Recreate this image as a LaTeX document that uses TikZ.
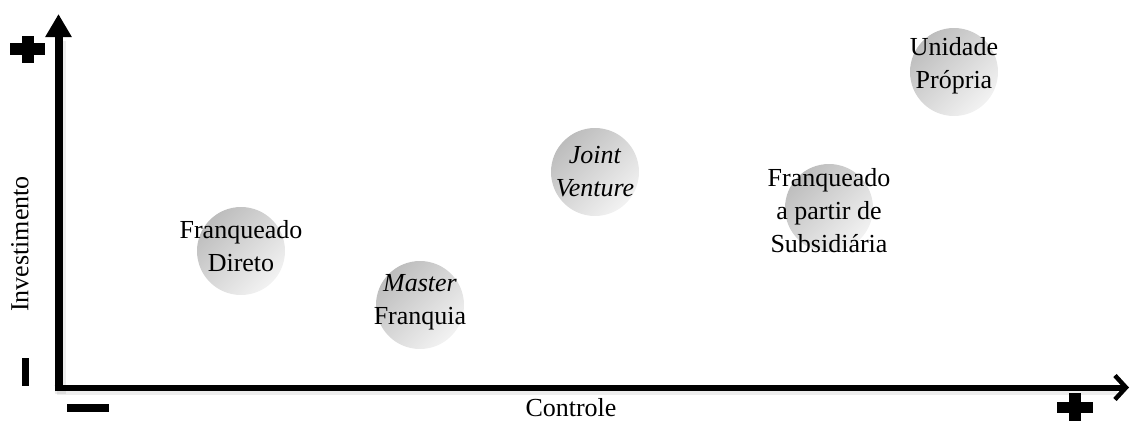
\documentclass[tikz,border=0pt]{standalone}
\usepackage{fontspec}
\setmainfont{Liberation Serif}
\usetikzlibrary{arrows.meta}
\begin{document}
\begin{tikzpicture}[x=1pt,y=-1pt,
  bubble/.style={circle, minimum size=88pt, inner sep=0pt, shading=axis,
    top color=black!26, bottom color=black!5, shading angle=45},
  lbl/.style={align=center, inner sep=0pt, font=\fontsize{26}{33}\selectfont},
  axisline/.style={draw=black},
  axisshadow/.style={draw=black, opacity=0.07},
  signbar/.style={fill=black}]
\useasboundingbox (0,0) rectangle (1130,421);

% axis end points
\coordinate (O) at (58.5,387.5);
\coordinate (ybase) at (58.5,391);
\coordinate (ytip) at (58.5,14);
\coordinate (xbase) at (54.5,387.5);
\coordinate (xtip) at (1129,387.5);

% soft shadows of the axes
\draw[axisshadow, line width=11] ([shift={(2,3)}]ybase) -- ([shift={(2,3)}]58.5,38);
\draw[axisshadow, line width=9] ([shift={(2,3)}]xbase) -- ([shift={(2,3)}]1115,387.5);

% axes
\draw[axisline, line width=8, -{Triangle[length=23pt,width=25pt]}] (ybase) -- (ytip);
\draw[axisline, line width=6, -{Straight Barb[length=11pt,width=24pt,line width=4.5pt]}] (xbase) -- (xtip);

% axis end signs
\fill[signbar] (10,43) rectangle (45,55);
\fill[signbar] (21.5,36) rectangle (33.5,63);
\fill[signbar] (22,358) rectangle (29,386);
\fill[signbar] (67,404) rectangle (109,412);
\fill[signbar] (1057,402) rectangle (1093,413);
\fill[signbar] (1069,393) rectangle (1081,421);

% axis titles
\node[lbl, rotate=90] (ylab) at (20,244) {Investimento};
\node[lbl] (xlab) at (571,408) {Controle};

% bubbles
\node[bubble] (c1) at (241,251) {};
\node[bubble] (c2) at (420,305) {};
\node[bubble] (c3) at (595,172) {};
\node[bubble] (c4) at (829,208) {};
\node[bubble] (c5) at (954,72) {};

% bubble captions
\node[lbl] (t1) at (241,246) {Franqueado\\Direto};
\node[lbl] (t2) at (420,302) {\textit{Master}\\Franquia};
\node[lbl] (t3) at (595,172) {\textit{Joint}\\\textit{Venture}};
\node[lbl] (t4) at (829,211) {Franqueado\\a partir de\\Subsidiária};
\node[lbl] (t5) at (954,66) {Unidade\\Própria};
\end{tikzpicture}
\end{document}
